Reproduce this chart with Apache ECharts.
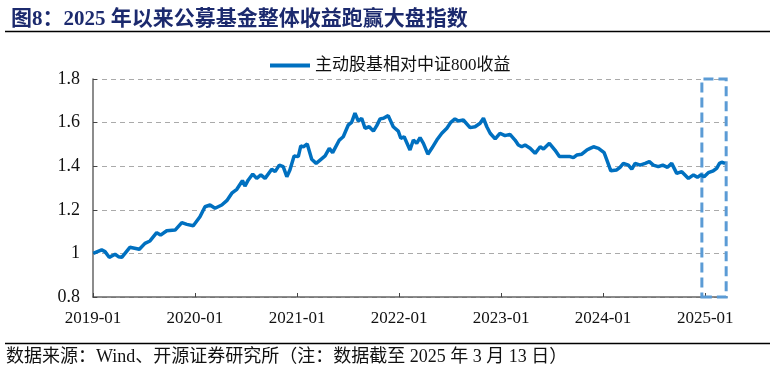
<!DOCTYPE html>
<html>
<head>
<meta charset="utf-8">
<script src="https://cdn.jsdelivr.net/npm/echarts@6/dist/echarts.min.js"></script>
<style>
html,body{margin:0;padding:0;background:#fff;}
#c{width:774px;height:374px;}
</style>
</head>
<body>
<div id="c"></div>
<script>
var titleText = '图8：2025 年以来公募基金整体收益跑赢大盘指数';
var sourceText = '数据来源：Wind、开源证券研究所（注：数据截至 2025 年 3 月 13 日）';
var seriesName = '主动股基相对中证800收益';

var dates = [
'2019-01-02','2019-02-01','2019-02-13','2019-02-28','2019-03-21','2019-04-02','2019-04-14','2019-05-13','2019-06-16','2019-07-06',
'2019-07-24','2019-08-17','2019-08-31','2019-09-22','2019-10-22','2019-11-15','2019-12-03','2019-12-26','2020-01-19','2020-02-06',
'2020-02-24','2020-03-13','2020-04-06','2020-04-24','2020-05-12','2020-05-30','2020-06-19','2020-06-28','2020-07-10','2020-07-26',
'2020-08-09','2020-08-24','2020-09-08','2020-10-02','2020-10-14','2020-10-29','2020-11-12','2020-11-25','2020-12-06','2020-12-21',
'2021-01-05','2021-01-14','2021-01-23','2021-02-06','2021-02-22','2021-03-10','2021-03-24','2021-04-11','2021-04-26','2021-05-08',
'2021-06-01','2021-06-15','2021-07-03','2021-07-15','2021-07-27','2021-08-08','2021-08-20','2021-09-01','2021-09-16','2021-10-01',
'2021-10-13','2021-10-25','2021-11-06','2021-11-23','2021-12-11','2021-12-29','2022-01-07','2022-01-19','2022-02-09','2022-02-21',
'2022-03-05','2022-03-17','2022-03-29','2022-04-14','2022-04-28','2022-05-16','2022-06-03','2022-06-21','2022-07-05','2022-07-20',
'2022-08-01','2022-08-19','2022-09-12','2022-09-30','2022-10-18','2022-10-30','2022-11-11','2022-11-23','2022-12-11','2022-12-28',
'2023-01-15','2023-02-02','2023-02-20','2023-03-04','2023-03-16','2023-03-28','2023-04-15','2023-05-03','2023-05-21','2023-06-02',
'2023-06-23','2023-07-13','2023-07-29','2023-08-18','2023-09-05','2023-09-17','2023-09-29','2023-10-17','2023-11-04','2023-11-16',
'2023-11-28','2023-12-16','2024-01-05','2024-01-15','2024-01-29','2024-02-19','2024-03-02','2024-03-14','2024-04-01','2024-04-13',
'2024-04-25','2024-05-13','2024-05-31','2024-06-15','2024-06-29','2024-07-17','2024-08-02','2024-08-19','2024-09-03','2024-09-21',
'2024-10-09','2024-11-02','2024-11-20','2024-12-04','2024-12-16','2024-12-28','2025-01-12','2025-01-30','2025-02-11','2025-02-21',
'2025-03-01','2025-03-07','2025-03-13'
];
var values = [
1.000,1.016,1.008,0.982,0.996,0.985,0.982,1.028,1.019,1.046,
1.057,1.095,1.084,1.104,1.107,1.141,1.133,1.127,1.168,1.214,
1.222,1.207,1.222,1.242,1.276,1.294,1.334,1.309,1.337,1.364,
1.344,1.360,1.344,1.386,1.375,1.405,1.398,1.352,1.383,1.447,
1.444,1.493,1.489,1.502,1.432,1.413,1.428,1.447,1.482,1.462,
1.520,1.535,1.589,1.601,1.643,1.607,1.620,1.574,1.581,1.561,
1.586,1.617,1.620,1.632,1.581,1.561,1.528,1.535,1.474,1.520,
1.505,1.531,1.505,1.455,1.482,1.520,1.551,1.574,1.601,1.617,
1.607,1.612,1.577,1.581,1.597,1.620,1.581,1.551,1.525,1.551,
1.540,1.546,1.520,1.497,1.489,1.497,1.482,1.459,1.489,1.479,
1.505,1.474,1.444,1.444,1.444,1.439,1.451,1.455,1.474,1.482,
1.489,1.482,1.462,1.428,1.379,1.383,1.395,1.413,1.405,1.386,
1.413,1.405,1.413,1.421,1.405,1.398,1.405,1.395,1.413,1.367,
1.375,1.344,1.360,1.349,1.360,1.352,1.370,1.379,1.390,1.413,
1.418,1.409,1.413
];
var xMin = '2019-01-01';
var xMax = '2025-03-20';
var yMin = 0.8, yMax = 1.8, yStep = 0.2;
var highlightStart = '2024-12-20';
var highlightEnd = '2025-03-17';
var highlightTop = 1.828;

var serif = '"Liberation Serif","Noto Sans CJK SC",serif';
var chart = echarts.init(document.getElementById('c'));
var data = dates.map(function(d,i){return [d, values[i]];});
var DAY = 86400000;

chart.setOption({
  animation:false,
  backgroundColor:'#fff',
  title:{
    text:titleText, left:6, top:4,
    textStyle:{fontFamily:serif, fontWeight:'bold', fontSize:21, color:'#1c2a6e'}
  },
  graphic:[
    {type:'line', shape:{x1:5,y1:31.5,x2:770,y2:31.5}, style:{stroke:'#000',lineWidth:1.5}},
    {type:'line', shape:{x1:5,y1:343.5,x2:770,y2:343.5}, style:{stroke:'#000',lineWidth:1.5}},
    {type:'text', left:6, top:348, style:{text:sourceText, fill:'#111', font:'18px "Liberation Serif","Noto Sans CJK SC",serif'}}
  ],
  legend:{
    data:[seriesName], left:265, top:52,
    itemWidth:40, itemHeight:4, itemGap:6,
    icon:'rect',
    textStyle:{fontFamily:serif, fontSize:17, color:'#111'}
  },
  grid:{left:93, right:47, top:79, bottom:77, containLabel:false},
  xAxis:{
    type:'time', min:xMin, max:xMax,
    minInterval:365*DAY, maxInterval:366*DAY,
    axisLine:{lineStyle:{color:'#666',width:1.5}},
    axisTick:{show:true, inside:true, length:4, lineStyle:{color:'#444'}},
    splitLine:{show:false},
    axisLabel:{formatter:'{yyyy}-{MM}', fontFamily:serif, fontSize:17, color:'#111', margin:13, showMinLabel:true}
  },
  yAxis:{
    type:'value', min:yMin, max:yMax, interval:yStep,
    axisLine:{show:true, lineStyle:{color:'#666',width:1.5}},
    axisTick:{show:true, inside:true, length:4, lineStyle:{color:'#444'}},
    splitLine:{show:true, lineStyle:{color:'#aaa', type:[5,4], width:1}},
    axisLabel:{fontFamily:serif, fontSize:18, color:'#111', margin:13,
      formatter:function(v){return String(Math.round(v*10)/10);}}
  },
  series:[{
    name:seriesName, type:'line', data:data, showSymbol:false, symbol:'none',
    clip:false,
    lineStyle:{color:'#0070C0', width:3.5},
    itemStyle:{color:'#0070C0'},
    markArea:{
      silent:true,
      itemStyle:{color:'rgba(0,0,0,0)', borderColor:'#5B9BD5', borderWidth:3, borderType:[10,5]},
      data:[[{xAxis:highlightStart, yAxis:yMin},{xAxis:highlightEnd, yAxis:highlightTop}]]
    }
  }]
});
</script>
</body>
</html>
